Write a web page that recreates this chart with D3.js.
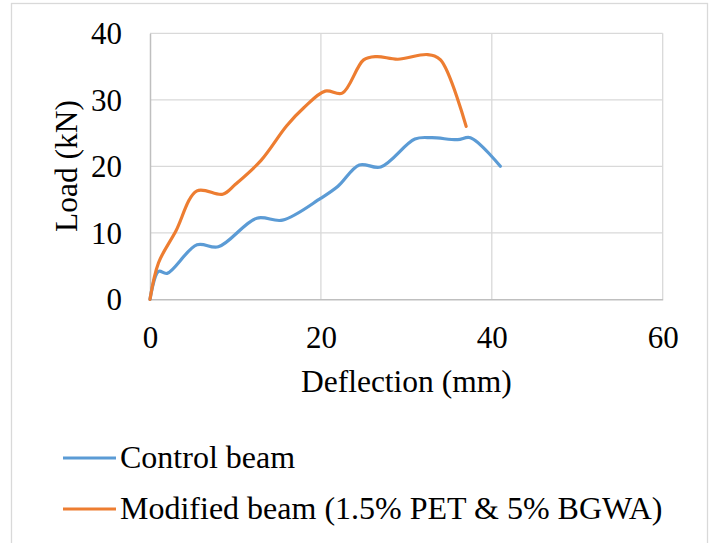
<!DOCTYPE html>
<html>
<head>
<meta charset="utf-8">
<script src="https://cdn.jsdelivr.net/npm/d3@7"></script>
<style>
  html, body { margin: 0; padding: 0; background: #fff; }
  svg { display: block; }
  text { font-family: "Liberation Serif", "Times New Roman", serif; fill: #000; }
</style>
</head>
<body>
<svg id="chart" width="711" height="543"></svg>
<script>
// Load–deflection readings (deflection in mm, load in kN)
const controlDeflection = [0, 1, 2, 5.5, 8, 12.5, 15.5, 20, 22, 24.5, 27, 31, 33, 36, 37.5, 41];
const controlLoad       = [0, 4.2, 3.9, 8.2, 7.9, 12.2, 11.9, 15.2, 17, 20.2, 19.9, 24.1, 24.3, 24.0, 24.3, 20];

const modifiedDeflection = [0, 1, 3, 5.5, 8.5, 10, 13, 16, 18, 20.5, 22.5, 25, 26.5, 29, 32.5, 34, 37];
const modifiedLoad       = [0, 5.5, 10.2, 16.3, 15.8, 17.3, 20.9, 26.1, 28.8, 31.3, 31.0, 36.0, 36.5, 36.1, 36.8, 36.0, 26];

const seriesNames = ["Control beam", "Modified beam (1.5% PET & 5% BGWA)"];
const seriesColors = ["#5B9BD5", "#ED7D31"];

const xTicks = [0, 20, 40, 60];
const yTicks = [0, 10, 20, 30, 40];

const xTitle = "Deflection (mm)";
const yTitle = "Load (kN)";

const svg = d3.select("#chart");

// outer chart frame
svg.append("rect")
  .attr("x", 11.5).attr("y", 3.5)
  .attr("width", 696).attr("height", 545)
  .attr("fill", "#fff").attr("stroke", "#D9D9D9").attr("stroke-width", 1.3);

const plot = { left: 150, right: 662.7, top: 33.3, bottom: 299.3 };

const x = d3.scaleLinear().domain([0, 60]).range([plot.left, plot.right]);
const y = d3.scaleLinear().domain([0, 40]).range([plot.bottom, plot.top]);

// gridlines
const grid = svg.append("g");
grid.selectAll("line.h").data(yTicks.slice(1)).join("line")
  .attr("x1", plot.left).attr("x2", plot.right)
  .attr("y1", d => y(d)).attr("y2", d => y(d))
  .attr("stroke", "#D9D9D9").attr("stroke-width", 1.3);
grid.selectAll("line.v").data(xTicks.slice(1)).join("line")
  .attr("y1", plot.top).attr("y2", plot.bottom)
  .attr("x1", d => x(d)).attr("x2", d => x(d))
  .attr("stroke", "#D9D9D9").attr("stroke-width", 1.3);

// axes
const xAxis = svg.append("g")
  .attr("transform", `translate(0,${plot.bottom})`)
  .call(d3.axisBottom(x).tickValues(xTicks).tickSize(0).tickPadding(27).tickFormat(d3.format("d")));
const yAxis = svg.append("g")
  .attr("transform", `translate(${plot.left},0)`)
  .call(d3.axisLeft(y).tickValues(yTicks).tickSize(0).tickPadding(28).tickFormat(d3.format("d")));

[xAxis, yAxis].forEach(g => {
  g.select(".domain").attr("stroke", "#BFBFBF").attr("stroke-width", 1.5);
  g.selectAll("text")
    .attr("font-family", "Liberation Serif, Times New Roman, serif")
    .attr("font-size", 31).attr("fill", "#000");
});
xAxis.selectAll("text").attr("dy", "0.71em");
yAxis.selectAll("text").attr("dy", "0.34em");

// axis titles
svg.append("text")
  .attr("x", (plot.left + plot.right) / 2).attr("y", 392)
  .attr("text-anchor", "middle").attr("font-size", 31.5)
  .text(xTitle);
svg.append("text")
  .attr("transform", `translate(77,166) rotate(-90)`)
  .attr("text-anchor", "middle").attr("font-size", 31.5)
  .text(yTitle);

// series lines
const line = d3.line()
  .x(d => x(d[0])).y(d => y(d[1]))
  .curve(d3.curveCatmullRom.alpha(0.5));

const series = [
  d3.zip(controlDeflection, controlLoad),
  d3.zip(modifiedDeflection, modifiedLoad)
];

svg.append("g").selectAll("path").data(series).join("path")
  .attr("d", line)
  .attr("fill", "none")
  .attr("stroke", (d, i) => seriesColors[i])
  .attr("stroke-width", 3.2)
  .attr("stroke-linecap", "round")
  .attr("stroke-linejoin", "round");

// legend
const legend = svg.append("g");
const legendRows = [458, 509];
seriesNames.forEach((name, i) => {
  legend.append("line")
    .attr("x1", 63).attr("x2", 116)
    .attr("y1", legendRows[i]).attr("y2", legendRows[i])
    .attr("stroke", seriesColors[i]).attr("stroke-width", 3.2);
  legend.append("text")
    .attr("x", 120).attr("y", legendRows[i] + 10)
    .attr("font-size", 32)
    .text(name);
});
</script>
</body>
</html>
